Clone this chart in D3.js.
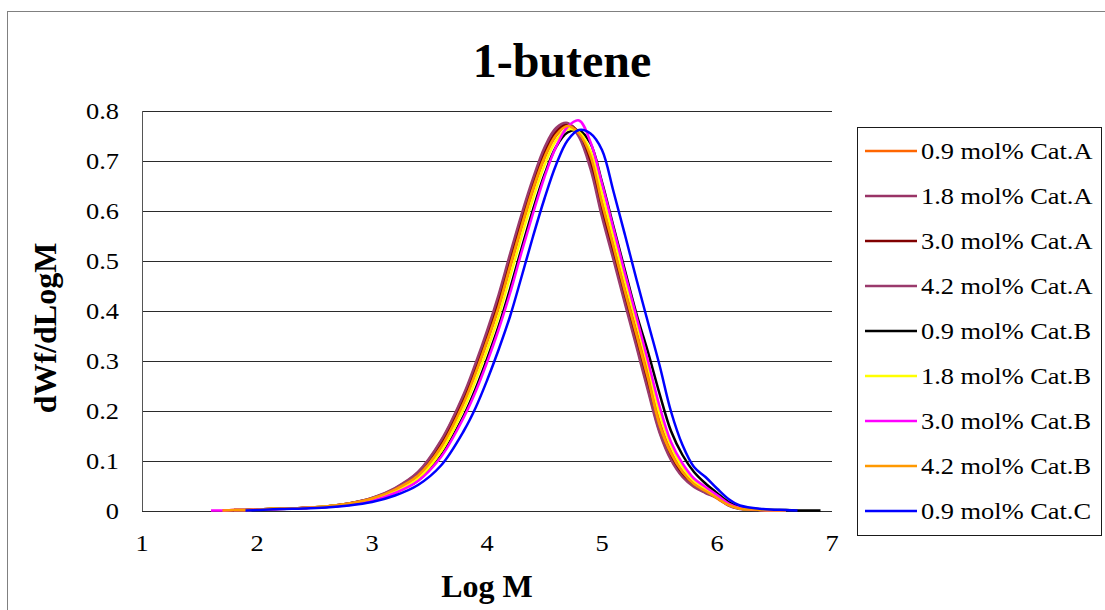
<!DOCTYPE html>
<html>
<head>
<meta charset="utf-8">
<script src="https://cdn.jsdelivr.net/npm/d3@7"></script>
<style>
  body { margin: 0; background: #fff; }
  svg { display: block; }
</style>
</head>
<body>
<svg id="visualisation" width="1105" height="610"></svg>
<script>
// log M grid shared by every series (null = no reading there)
var logM = [1.6, 1.7, 1.8, 1.9, 2.0, 2.2, 2.4, 2.6, 2.8, 3.0,
            3.2, 3.4, 3.6, 3.8, 3.9, 4.0, 4.1, 4.2, 4.3, 4.4,
            4.5, 4.6, 4.7, 4.8, 4.9, 5.0, 5.1, 5.2, 5.3, 5.4,
            5.5, 5.6, 5.7, 5.8, 5.9, 6.0, 6.1, 6.2, 6.4, 6.6,
            6.7, 6.8, 6.9];

var catA09 = [null, 0.001, 0.002, 0.002, 0.003, 0.005, 0.006, 0.009, 0.014, 0.024,
              0.041, 0.068, 0.125, 0.218, 0.275, 0.337, 0.405, 0.485, 0.565, 0.64,
              0.705, 0.75, 0.771, 0.758, 0.715, 0.62, 0.535, 0.445, 0.36, 0.275,
              0.18, 0.12, 0.08, 0.055, 0.04, 0.025, 0.012, 0.005, 0.002, 0.001,
              null, null, null];
var catA18 = [null, null, 0.002, 0.002, 0.003, 0.005, 0.006, 0.009, 0.015, 0.026,
              0.045, 0.077, 0.139, 0.232, 0.291, 0.355, 0.427, 0.509, 0.588, 0.66,
              0.722, 0.762, 0.775, 0.752, 0.69, 0.594, 0.508, 0.42, 0.333, 0.245,
              0.16, 0.105, 0.07, 0.05, 0.037, 0.028, 0.012, 0.005, 0.002, 0.001,
              null, null, null];
var catA30 = [null, null, 0.002, 0.002, 0.003, 0.005, 0.006, 0.009, 0.015, 0.025,
              0.044, 0.075, 0.135, 0.226, 0.285, 0.348, 0.418, 0.501, 0.58, 0.653,
              0.715, 0.757, 0.774, 0.755, 0.698, 0.602, 0.517, 0.428, 0.342, 0.253,
              0.166, 0.11, 0.074, 0.053, 0.04, 0.029, 0.013, 0.005, 0.002, 0.001,
              null, null, null];
var catA42 = [null, null, 0.002, 0.002, 0.003, 0.005, 0.006, 0.009, 0.015, 0.026,
              0.046, 0.078, 0.141, 0.235, 0.295, 0.36, 0.432, 0.514, 0.593, 0.665,
              0.727, 0.766, 0.776, 0.748, 0.684, 0.588, 0.502, 0.414, 0.328, 0.24,
              0.157, 0.102, 0.068, 0.048, 0.036, 0.026, 0.011, 0.004, 0.002, 0.001,
              null, null, null];
var catB09 = [null, null, null, 0.002, 0.003, 0.004, 0.006, 0.008, 0.013, 0.021,
              0.037, 0.061, 0.111, 0.192, 0.244, 0.304, 0.369, 0.444, 0.525, 0.603,
              0.673, 0.728, 0.757, 0.761, 0.735, 0.658, 0.569, 0.481, 0.394, 0.318,
              0.235, 0.16, 0.112, 0.078, 0.055, 0.036, 0.018, 0.008, 0.003, 0.002,
              0.001, 0.001, 0.001];
var catB18 = [null, null, 0.002, 0.002, 0.003, 0.005, 0.006, 0.009, 0.014, 0.023,
              0.039, 0.065, 0.119, 0.206, 0.261, 0.322, 0.389, 0.468, 0.549, 0.625,
              0.692, 0.741, 0.763, 0.758, 0.72, 0.635, 0.548, 0.46, 0.377, 0.29,
              0.195, 0.13, 0.087, 0.06, 0.043, 0.028, 0.013, 0.005, 0.002, 0.001,
              null, null, null];
var catB30 = [0.001, 0.001, 0.002, 0.002, 0.003, 0.004, 0.006, 0.008, 0.012, 0.02,
              0.036, 0.06, 0.108, 0.188, 0.238, 0.297, 0.362, 0.435, 0.517, 0.595,
              0.668, 0.728, 0.768, 0.781, 0.738, 0.655, 0.565, 0.475, 0.388, 0.3,
              0.21, 0.138, 0.095, 0.065, 0.048, 0.032, 0.015, 0.006, 0.002, 0.001,
              null, null, null];
var catB42 = [null, 0.001, 0.002, 0.002, 0.003, 0.005, 0.006, 0.009, 0.015, 0.025,
              0.043, 0.071, 0.128, 0.218, 0.276, 0.34, 0.408, 0.49, 0.57, 0.645,
              0.708, 0.752, 0.77, 0.755, 0.71, 0.615, 0.528, 0.438, 0.352, 0.265,
              0.172, 0.115, 0.078, 0.054, 0.04, 0.026, 0.012, 0.005, 0.002, 0.001,
              null, null, null];
var catC09 = [null, null, null, 0.001, 0.002, 0.004, 0.005, 0.007, 0.011, 0.018,
              0.031, 0.052, 0.091, 0.161, 0.206, 0.261, 0.322, 0.389, 0.468, 0.549,
              0.625, 0.692, 0.741, 0.762, 0.755, 0.722, 0.639, 0.552, 0.463, 0.377,
              0.292, 0.199, 0.132, 0.088, 0.068, 0.045, 0.024, 0.011, 0.004, 0.002,
              0.001, null, null];

var seriesNames = ["0.9 mol% Cat.A", "1.8 mol% Cat.A", "3.0 mol% Cat.A", "4.2 mol% Cat.A",
                   "0.9 mol% Cat.B", "1.8 mol% Cat.B", "3.0 mol% Cat.B", "4.2 mol% Cat.B",
                   "0.9 mol% Cat.C"];
var seriesValues = [catA09, catA18, catA30, catA42, catB09, catB18, catB30, catB42, catC09];
var seriesColors = ["#FF6600", "#993366", "#800000", "#9A3A6C",
                    "#000000", "#FFFF00", "#FF00FF", "#FF9900", "#0000FF"];

var xTicks = [1, 2, 3, 4, 5, 6, 7];
var yTicks = [0, 0.1, 0.2, 0.3, 0.4, 0.5, 0.6, 0.7, 0.8];

var vis = d3.select("#visualisation"),
    MARGINS = { top: 111, right: 273, bottom: 99, left: 142 },
    WIDTH = 1105,
    HEIGHT = 610,
    SERIF = "'Liberation Serif', 'Times New Roman', serif",
    STRETCH = 1.1;

var xScale = d3.scaleLinear().range([MARGINS.left, WIDTH - MARGINS.right]).domain([1, 7]),
    yScale = d3.scaleLinear().range([HEIGHT - MARGINS.bottom, MARGINS.top]).domain([0, 0.8]);

// outer chart frame
vis.append("rect")
    .attr("x", 7.5).attr("y", 11.5)
    .attr("width", 1110).attr("height", 620)
    .attr("fill", "#fff")
    .attr("stroke", "#808080");

// plain text is a bit wider than normal in the picture
function stretchedText(g, x, y, txt, anchor) {
  return g.append("text")
      .attr("transform", "translate(" + x + "," + y + ") scale(" + STRETCH + ",1)")
      .attr("text-anchor", anchor || "start")
      .attr("font-family", SERIF)
      .attr("font-size", 24)
      .attr("fill", "#000")
      .text(txt);
}

// horizontal grid lines
vis.append("g")
    .selectAll("line")
    .data(yTicks)
    .enter().append("line")
    .attr("x1", xScale(1))
    .attr("x2", xScale(7))
    .attr("y1", function (d) { return Math.round(yScale(d)) + 0.5; })
    .attr("y2", function (d) { return Math.round(yScale(d)) + 0.5; })
    .attr("stroke", "#2b2b2b")
    .attr("stroke-width", 1);

// left axis line
vis.append("line")
    .attr("x1", xScale(1) + 0.5).attr("x2", xScale(1) + 0.5)
    .attr("y1", yScale(0.8)).attr("y2", yScale(0))
    .attr("stroke", "#555")
    .attr("stroke-width", 1);

var yAxisG = vis.append("g");
yTicks.forEach(function (t) {
  stretchedText(yAxisG, 119, yScale(t) + 8, t === 0 ? "0" : d3.format(".1f")(t), "end");
});

var xAxisG = vis.append("g");
xTicks.forEach(function (t) {
  stretchedText(xAxisG, xScale(t), 551, String(t), "middle");
});

var lineGen = d3.line()
    .defined(function (d) { return d != null; })
    .x(function (d, i) { return xScale(logM[i]); })
    .y(function (d) { return yScale(d); })
    .curve(d3.curveCatmullRom.alpha(0.5));

seriesValues.forEach(function (vals, i) {
  vis.append("path")
      .attr("d", lineGen(vals))
      .attr("stroke", seriesColors[i])
      .attr("stroke-width", 2.5)
      .attr("stroke-linejoin", "round")
      .attr("fill", "none");
});

// title and axis titles
vis.append("text")
    .attr("x", 562).attr("y", 77)
    .attr("text-anchor", "middle")
    .attr("font-family", SERIF)
    .attr("font-weight", "bold")
    .attr("font-size", 48)
    .text("1-butene");

vis.append("text")
    .attr("x", 487).attr("y", 597)
    .attr("text-anchor", "middle")
    .attr("font-family", SERIF)
    .attr("font-weight", "bold")
    .attr("font-size", 32)
    .text("Log M");

vis.append("text")
    .attr("transform", "translate(56,328) rotate(-90)")
    .attr("text-anchor", "middle")
    .attr("font-family", SERIF)
    .attr("font-weight", "bold")
    .attr("font-size", 32)
    .text("dWf/dLogM");

// legend
var legend = vis.append("g");
legend.append("rect")
    .attr("x", 857.5).attr("y", 127.5)
    .attr("width", 244).attr("height", 408)
    .attr("fill", "#fff")
    .attr("stroke", "#1a1a1a");

seriesNames.forEach(function (name, i) {
  var y = 151 + i * 45;
  legend.append("line")
      .attr("x1", 865).attr("x2", 917)
      .attr("y1", y).attr("y2", y)
      .attr("stroke", seriesColors[i])
      .attr("stroke-width", 2.5);
  stretchedText(legend, 921, y + 8, name, "start");
});
</script>
</body>
</html>
